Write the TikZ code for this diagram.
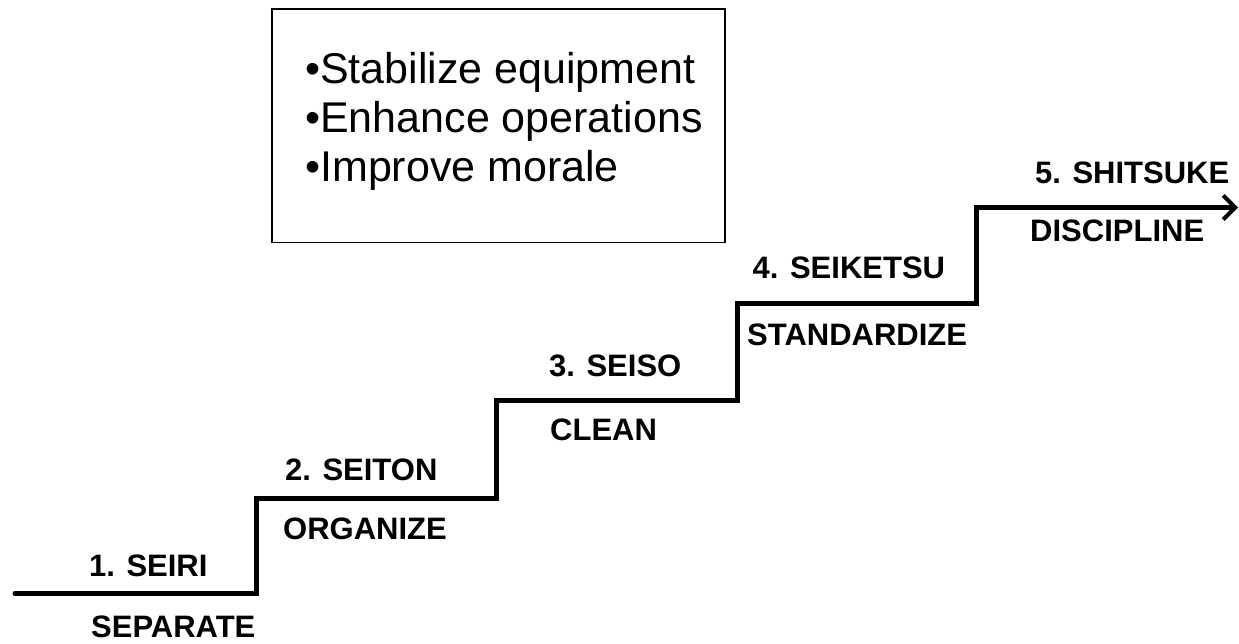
\documentclass[tikz,border=0pt]{standalone}
\usepackage{fontspec}
\setmainfont{Liberation Sans}
\usetikzlibrary{arrows.meta}
\tikzset{
  stair/.style={line width=5pt, line cap=round, line join=miter,
    -{Straight Barb[length=12pt,width=24pt,line width=4pt]}},
  steplabel/.style={anchor=base west, inner sep=0pt,
    font=\bfseries\fontsize{31}{37}\selectfont},
  goalbox/.style={draw, line width=1.5pt},
  goaltext/.style={anchor=base west, inner sep=0pt,
    font=\fontsize{43}{50}\selectfont}
}
\begin{document}
\begin{tikzpicture}[x=1pt,y=-1pt]
\useasboundingbox (0,0) rectangle (1239,643);

% frame with the goals
\node[goalbox, minimum width=453pt, minimum height=233.7pt, anchor=north west] (goals) at (271,8) {};
\node[goaltext] (g1) at (305,83) {•Stabilize equipment};
\node[goaltext] (g2) at (305,132) {•Enhance operations};
\node[goaltext] (g3) at (305,181) {•Improve morale};

% corners of the staircase
\coordinate (s0) at (15,593.5);
\coordinate (s1) at (256.5,593.5);
\coordinate (s2) at (256.5,498.3);
\coordinate (s3) at (496,498.3);
\coordinate (s4) at (496,400.7);
\coordinate (s5) at (737,400.7);
\coordinate (s6) at (737,303.3);
\coordinate (s7) at (976,303.3);
\coordinate (s8) at (976,207.5);
\coordinate (s9) at (1238,207.5);

\draw[stair] (s0) -- (s1) -- (s2) -- (s3) -- (s4) -- (s5) -- (s6) -- (s7) -- (s8) -- (s9);

% step names and meanings
\node[steplabel] (n1) at (89,576) {1. SEIRI};
\node[steplabel] (m1) at (91,637) {SEPARATE};
\node[steplabel] (n2) at (285,480.7) {2. SEITON};
\node[steplabel] (m2) at (283,539) {ORGANIZE};
\node[steplabel] (n3) at (549,376.7) {3. SEISO};
\node[steplabel] (m3) at (550,440.7) {CLEAN};
\node[steplabel] (n4) at (752.5,278.3) {4. SEIKETSU};
\node[steplabel] (m4) at (747,345) {STANDARDIZE};
\node[steplabel] (n5) at (1035,183.3) {5. SHITSUKE};
\node[steplabel] (m5) at (1030,241.7) {DISCIPLINE};
\end{tikzpicture}
\end{document}
